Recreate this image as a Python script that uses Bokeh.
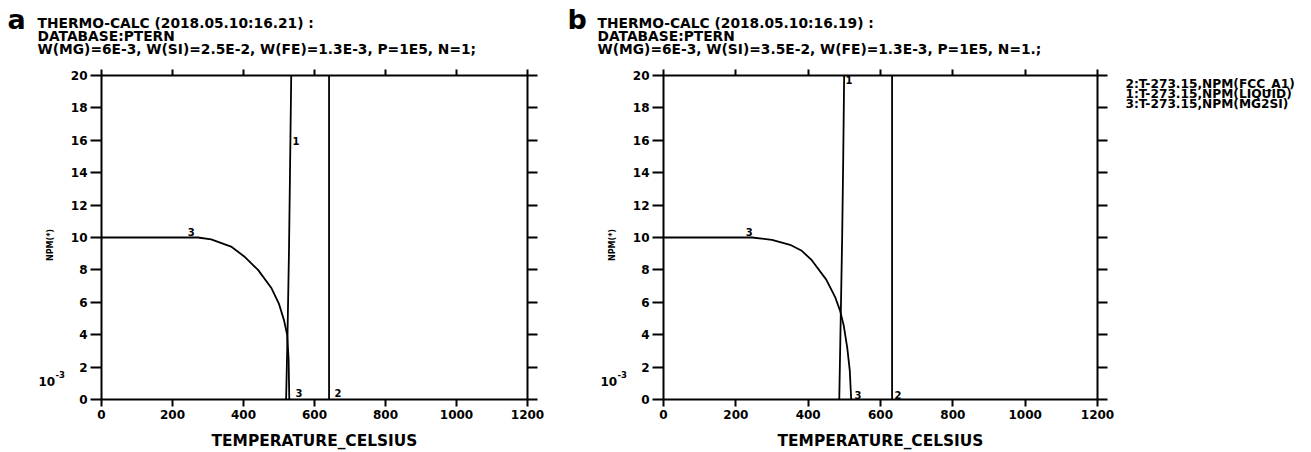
from bokeh.plotting import figure
from bokeh.models import Range1d, LinearAxis, FixedTicker
from bokeh.layouts import row, column
from bokeh.core.properties import value
from bokeh.embed import file_html
from bokeh.resources import INLINE

# ---------------- data (NPM values in units of 1e-3) ----------------
X_TICKS = [0, 200, 400, 600, 800, 1000, 1200]
Y_TICKS = [0, 2, 4, 6, 8, 10, 12, 14, 16, 18, 20]

# panel a
A_T_MG2SI = [0, 100, 200, 272, 309, 365, 402, 441, 478, 500, 514, 523, 527, 529]
A_N_MG2SI = [10, 10, 10, 10, 9.88, 9.44, 8.83, 8.0, 6.9, 5.9, 4.9, 4.0, 2.5, 0]
A_T_LIQ = [520, 524, 528, 531, 535]
A_N_LIQ = [0, 4, 9, 14, 21]
A_T_FCC = [641, 641]
A_N_FCC = [0, 21]

# panel b
B_T_MG2SI = [0, 100, 200, 245, 300, 350, 381, 410, 450, 475, 488, 498, 508, 515, 519]
B_N_MG2SI = [10, 10, 10, 10, 9.85, 9.55, 9.2, 8.6, 7.4, 6.3, 5.5, 4.6, 3.2, 1.8, 0]
B_T_LIQ = [486, 490, 494, 497, 500]
B_N_LIQ = [0, 5, 10, 15, 21]
B_T_FCC = [632, 632]
B_N_FCC = [0, 21]

TITLES_A = ["THERMO-CALC (2018.05.10:16.21) :", "DATABASE:PTERN",
            "W(MG)=6E-3, W(SI)=2.5E-2, W(FE)=1.3E-3, P=1E5, N=1;"]
TITLES_B = ["THERMO-CALC (2018.05.10:16.19) :", "DATABASE:PTERN",
            "W(MG)=6E-3, W(SI)=3.5E-2, W(FE)=1.3E-3, P=1E5, N=1.;"]
LEGEND = ["2:T-273.15,NPM(FCC_A1)", "1:T-273.15,NPM(LIQUID)", "3:T-273.15,NPM(MG2SI)"]
X_TITLE = "TEMPERATURE_CELSIUS"
Y_TITLE = "NPM(*)"

FONT = "DejaVu Sans"
H = 452
HEAD_H = 62
TOP = 75
BOTTOM_PX = 400
MAIN_LEFT_BORDER = 33


def blank(x0, x1, y_bottom, y_top, w, h):
    """A text-only figure; its frame maps page-pixel coordinates."""
    f = figure(width=w, height=h, x_range=Range1d(x0, x1), y_range=Range1d(y_bottom, y_top),
               output_backend="svg", toolbar_location=None, title=None,
               x_axis_location=None, y_axis_location=None,
               min_border=0, min_border_left=0, min_border_right=0,
               min_border_top=0, min_border_bottom=0)
    f.xgrid.visible = False
    f.ygrid.visible = False
    f.outline_line_color = None
    f.background_fill_color = "white"
    f.border_fill_color = "white"
    return f


def txt(f, x, y, t, size, align="left", angle=0.0):
    f.text(x=[x], y=[y], text=[t], text_font=value(FONT), text_font_style="bold",
           text_font_size=size, text_color="black", text_baseline="middle",
           text_align=align, angle=angle)


def make_panel(x0, width, left_px, right_px, letter, titles, curves, tags, legend=None):
    # header (frame = whole header canvas)
    head = blank(x0, x0 + width, HEAD_H, 0, width, HEAD_H)
    txt(head, x0 + 7, 19, letter, "27px")
    for i, t in enumerate(titles):
        txt(head, x0 + 37, 22 + 13 * i, t, "13.8px")

    main_x0 = left_px - MAIN_LEFT_BORDER
    main_x1 = x0 + width if legend is None else right_px + 22

    # left strip: its frame is aligned with the main frame (rows align frames)
    left = blank(x0, main_x0, BOTTOM_PX, TOP, main_x0 - x0, H - HEAD_H)
    txt(left, left_px - 50, 245, Y_TITLE, "8px", align="center", angle=1.5708)
    txt(left, left_px - 62, 382, "10", "12px")
    txt(left, left_px - 45, 375, "-3", "8.5px")

    fw = right_px - left_px
    p = figure(width=main_x1 - main_x0, height=H - HEAD_H,
               x_range=Range1d(0, 1200), y_range=Range1d(0, 20),
               output_backend="svg", toolbar_location=None,
               x_axis_location=None, y_axis_location=None,
               min_border_left=left_px - main_x0, min_border_right=main_x1 - right_px,
               min_border_top=TOP - HEAD_H, min_border_bottom=H - BOTTOM_PX)
    p.xgrid.visible = False
    p.ygrid.visible = False
    p.outline_line_color = None
    p.background_fill_color = "white"
    p.border_fill_color = "white"

    def mk(side, ticks, tick_out, show_labels, label=None):
        a = LinearAxis(ticker=FixedTicker(ticks=ticks))
        a.axis_line_width = 2
        a.axis_line_color = "black"
        a.major_tick_line_width = 2
        a.major_tick_line_color = "black"
        a.major_tick_in = 0
        a.major_tick_out = tick_out
        a.minor_tick_line_color = None
        a.major_label_text_font = FONT
        a.major_label_text_font_style = "bold"
        if show_labels:
            a.major_label_text_color = "black"
            a.major_label_text_font_size = "12px"
            a.major_label_standoff = 3
        else:
            a.major_label_text_color = None
            a.major_label_text_font_size = "1px"
            a.major_label_standoff = 0
        if label:
            a.axis_label = label
            a.axis_label_text_font = FONT
            a.axis_label_text_font_style = "bold"
            a.axis_label_text_font_size = "15.4px"
            a.axis_label_text_color = "black"
            a.axis_label_standoff = 10
        p.add_layout(a, side)

    mk("below", X_TICKS, 7, True, X_TITLE)
    mk("left", Y_TICKS, 11, True)
    mk("above", X_TICKS, 6, False)
    mk("right", Y_TICKS, 10, False)

    for (tx, ny) in curves:
        p.line(tx, ny, line_color="black", line_width=1.8)

    def X(px):
        return (px - left_px) / fw * 1200.0

    def Y(py):
        return (BOTTOM_PX - py) / (BOTTOM_PX - TOP) * 20.0

    for (px, py, t) in tags:
        p.text(x=[X(px)], y=[Y(py)], text=[t], text_font=value(FONT), text_font_style="bold",
               text_font_size="10px", text_color="black", text_baseline="middle",
               text_align="center")

    parts = [left, p]
    if legend is not None:
        right = blank(main_x1, x0 + width, BOTTOM_PX, TOP, x0 + width - main_x1, H - HEAD_H)
        for i, t in enumerate(legend):
            txt(right, right_px + 28, 84 + 10 * i, t, "12.2px")
        parts.append(right)
    return column(head, row(*parts))


pa = make_panel(0, 560, 100, 527, "a", TITLES_A,
                [(A_T_MG2SI, A_N_MG2SI), (A_T_LIQ, A_N_LIQ), (A_T_FCC, A_N_FCC)],
                [(295, 141, "1"), (190, 232, "3"), (298, 393, "3"), (337, 393, "2")])
pb = make_panel(560, 751, 662, 1097, "b", TITLES_B,
                [(B_T_MG2SI, B_N_MG2SI), (B_T_LIQ, B_N_LIQ), (B_T_FCC, B_N_FCC)],
                [(848, 80, "1"), (748, 232, "3"), (857, 395, "3"), (897, 395, "2")],
                legend=LEGEND)

layout = row(pa, pb)
open("out.html", "w").write(file_html(layout, INLINE))
